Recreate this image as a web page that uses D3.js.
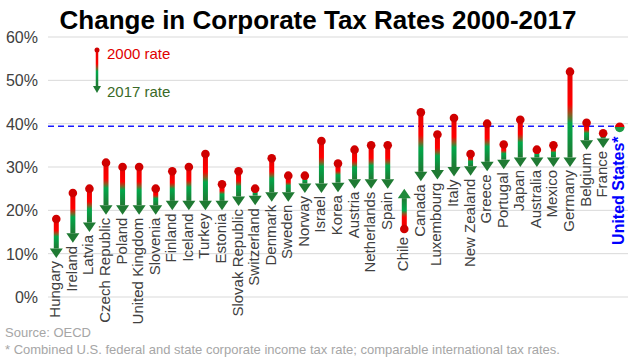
<!DOCTYPE html>
<html>
<head>
<meta charset="utf-8">
<script src="https://cdn.jsdelivr.net/npm/d3@7"></script>
<style>
  body { margin: 0; background: #fff; }
  text { font-family: "Liberation Sans", Arial, sans-serif; }
</style>
</head>
<body>
<div id="chart"></div>
<script>
// data (percent)
let countries = ["Hungary", "Ireland", "Latvia", "Czech Republic", "Poland", "United Kingdom", "Slovenia",
    "Finland", "Iceland", "Turkey", "Estonia", "Slovak Republic", "Switzerland", "Denmark", "Sweden",
    "Norway", "Israel", "Korea", "Austria", "Netherlands", "Spain", "Chile", "Canada", "Luxembourg",
    "Italy", "New Zealand", "Greece", "Portugal", "Japan", "Australia", "Mexico", "Germany", "Belgium",
    "France", "United States*"];
let rate2000 = [18, 24, 25, 31, 30, 30, 25, 29, 30, 33, 26, 29, 25, 32, 28, 28, 36, 30.8, 34, 35, 35,
    15.7, 42.6, 37.5, 41.3, 33, 40, 35.2, 40.9, 34, 35, 52, 40.2, 37.8, 39.4];
let rate2017 = [9, 12.5, 15, 19, 19, 19, 19, 20, 20, 20, 20, 21, 21.2, 22, 22, 24, 24, 24.2, 25, 25, 25,
    25, 26.7, 27.1, 27.8, 28, 29, 29.5, 30, 30, 30, 30, 34, 34.4, 38.9];
let yTicks = [0, 10, 20, 30, 40, 50, 60];
let usRate = 39.4;

let width = 641, height = 361;
let margin = {top: 37, right: 13, bottom: 64, left: 48};

let svg = d3.select("#chart").append("svg")
    .attr("width", width)
    .attr("height", height);

let defs = svg.append("defs");

let x = d3.scaleBand()
    .domain(countries)
    .range([margin.left, width - margin.right]);

let y = d3.scaleLinear()
    .domain([0, 60])
    .range([height - margin.bottom, margin.top]);

// title
svg.append("text")
    .attr("x", 318)
    .attr("y", 29)
    .attr("text-anchor", "middle")
    .style("font-size", "26px")
    .style("font-weight", "bold")
    .attr("fill", "#000")
    .text("Change in Corporate Tax Rates 2000-2017");

// gridlines and y labels
svg.append("g").selectAll("line")
    .data(yTicks)
    .enter()
    .append("line")
    .attr("x1", margin.left)
    .attr("x2", width - margin.right)
    .attr("y1", d => y(d))
    .attr("y2", d => y(d))
    .attr("stroke", "#d9d9d9")
    .attr("stroke-width", 1);

svg.append("g").selectAll("text")
    .data(yTicks)
    .enter()
    .append("text")
    .attr("x", 38)
    .attr("y", d => y(d) + 6)
    .attr("text-anchor", "end")
    .style("font-size", "16px")
    .attr("fill", "#404040")
    .text(d => d + "%");

// US reference line
svg.append("line")
    .attr("x1", margin.left)
    .attr("x2", width - margin.right)
    .attr("y1", y(usRate))
    .attr("y2", y(usRate))
    .attr("stroke", "#1a1aff")
    .attr("stroke-width", 1.5)
    .attr("stroke-dasharray", "6,4");

// gradients: red at the 2000 end, green at the 2017 end
function addGradient(id, up) {
    let g = defs.append("linearGradient")
        .attr("id", id)
        .attr("x1", 0).attr("x2", 0)
        .attr("y1", up ? 1 : 0).attr("y2", up ? 0 : 1);
    let stops = [[0, "#e80000"], [0.38, "#ff0000"], [0.5, "#8a5a22"], [0.6, "#00a84a"], [1, "#1f7a33"]];
    stops.forEach(s => g.append("stop").attr("offset", s[0]).attr("stop-color", s[1]));
}
addGradient("gradDown", false);
addGradient("gradUp", true);

let split = defs.append("linearGradient")
    .attr("id", "split")
    .attr("x1", 0).attr("x2", 0).attr("y1", 0).attr("y2", 1);
split.append("stop").attr("offset", 0.5).attr("stop-color", "#e00000");
split.append("stop").attr("offset", 0.5).attr("stop-color", "#1f9a45");

let data = countries.map((c, i) => ({name: c, a: rate2000[i], b: rate2017[i]}));

let headLen = 9.5, headHalf = 6.5, stemW = 5, dotR = 4.3;

let marks = svg.append("g").selectAll("g")
    .data(data)
    .enter()
    .append("g")
    .attr("transform", d => "translate(" + (x(d.name) + x.bandwidth() / 2) + ",0)");

let arrows = marks.filter(d => Math.abs(d.a - d.b) >= 1);

arrows.append("rect")
    .attr("x", -stemW / 2)
    .attr("width", stemW)
    .attr("y", d => d.b < d.a ? y(d.a) : y(d.b) + headLen)
    .attr("height", d => Math.abs(y(d.a) - y(d.b)) - headLen)
    .attr("fill", d => d.b < d.a ? "url(#gradDown)" : "url(#gradUp)");

arrows.append("path")
    .attr("d", d => {
        let tip = y(d.b);
        let base = d.b < d.a ? tip - headLen : tip + headLen;
        return "M" + (-headHalf) + "," + base + "L" + headHalf + "," + base + "L0," + tip + "Z";
    })
    .attr("fill", d => d.b < d.a ? "#1f7a33" : "#1f8a3a");

arrows.append("circle")
    .attr("cy", d => y(d.a))
    .attr("r", dotR)
    .attr("fill", "#d00000");

// tiny change: single split dot
marks.filter(d => Math.abs(d.a - d.b) < 1)
    .append("circle")
    .attr("cy", d => y((d.a + d.b) / 2))
    .attr("r", dotR + 0.5)
    .attr("fill", "url(#split)");

// category labels below the lower end
marks.append("text")
    .attr("transform", d => {
        let low = Math.min(d.a, d.b);
        let off = d.a <= d.b || Math.abs(d.a - d.b) < 1 ? 8 : 3;
        return "translate(4," + (y(low) + off) + ") rotate(-90)";
    })
    .attr("text-anchor", "end")
    .style("font-size", d => d.name === "United States*" ? "16px" : "15px")
    .style("font-weight", d => d.name === "United States*" ? "bold" : "normal")
    .attr("fill", d => d.name === "United States*" ? "#0000ff" : "#404040")
    .text(d => d.name);

// legend
let lg = svg.append("g").attr("transform", "translate(97,0)");
lg.append("rect")
    .attr("x", -1.25).attr("width", 2.5)
    .attr("y", 50).attr("height", 36)
    .attr("fill", "url(#gradDown)");
lg.append("path")
    .attr("d", "M-4,86L4,86L0,93Z")
    .attr("fill", "#1f7a33");
lg.append("circle")
    .attr("cy", 50).attr("r", 2.5)
    .attr("fill", "#d00000");
lg.append("text")
    .attr("x", 10).attr("y", 59)
    .style("font-size", "15px")
    .attr("fill", "#e00000")
    .text("2000 rate");
lg.append("text")
    .attr("x", 10).attr("y", 97)
    .style("font-size", "15px")
    .attr("fill", "#3a6a28")
    .text("2017 rate");

// footnotes
svg.append("text")
    .attr("x", 5).attr("y", 337)
    .style("font-size", "13px")
    .attr("fill", "#a6a6a6")
    .text("Source: OECD");
svg.append("text")
    .attr("x", 5).attr("y", 354)
    .style("font-size", "13px")
    .attr("fill", "#a6a6a6")
    .text("* Combined U.S. federal and state corporate income tax rate; comparable international tax rates.");
</script>
</body>
</html>
